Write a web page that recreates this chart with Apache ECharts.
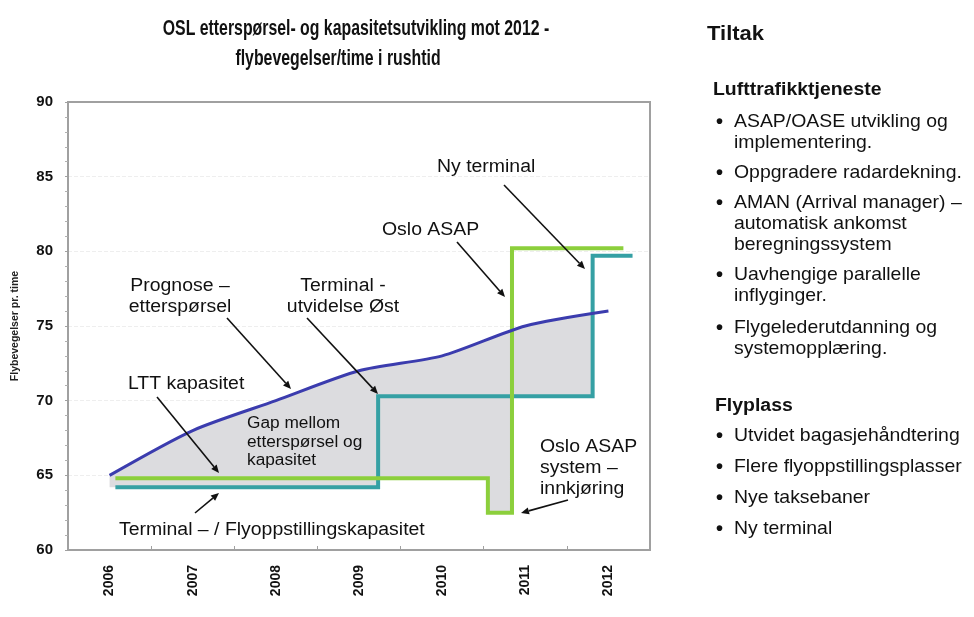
<!DOCTYPE html>
<html>
<head>
<meta charset="utf-8">
<script src="https://cdn.jsdelivr.net/npm/echarts@6/dist/echarts.min.js"></script>
<style>
html,body{margin:0;padding:0;background:#fff;}
#c{width:974px;height:617px;}
</style>
</head>
<body>
<div id="c"></div>
<script>
// ---- data ----
const years = ['2006','2007','2008','2009','2010','2011','2012'];
const yearValues = [2006, 2007, 2008, 2009, 2010, 2011, 2012];
const demand = [65, 68, 70, 72, 73, 75, 76];            // Prognose – etterspørsel
const lttBreaks = [2006.07, 2010.55, 2010.84, 2012.18];  // LTT kapasitet (step)
const lttLevels = [64.8, 62.5, 80.2, 80.2];
const termBreaks = [2006.07, 2009.23, 2011.81, 2012.29]; // Terminal-/Flyoppstillingskapasitet (step)
const termLevels = [64.2, 70.3, 79.7, 79.7];
const yTicks = [60, 65, 70, 75, 80, 85, 90];

const demandData = yearValues.map((x, i) => [x, demand[i]]);
const lttData = lttBreaks.map((x, i) => [x, lttLevels[i]]);
const termData = termBreaks.map((x, i) => [x, termLevels[i]]);

function stepVal(breaks, levels, x) {
  let v = levels[0];
  for (let i = 0; i < breaks.length; i++) if (x >= breaks[i]) v = levels[i];
  return v;
}
// lower envelope of the two capacity lines (bottom of the grey gap area)
const xMin = 2005.5, xMax = 2012.5;
const allBreaks = Array.from(new Set([xMin].concat(lttBreaks, termBreaks))).sort((a, b) => a - b);
const envelope = allBreaks.map(x => [x, Math.min(stepVal(lttBreaks, lttLevels, x), stepVal(termBreaks, termLevels, x))]);
envelope.push([xMax, envelope[envelope.length - 1][1]]);

const chart = echarts.init(document.getElementById('c'), null, {renderer: 'canvas'});

const txtFont = '"Liberation Sans", Arial, sans-serif';
function label(x, y, text, size, weight, align, sx) {
  return {type: 'text', x: x, y: y, z: 100, scaleX: sx || 1.08,
    style: {text: text, font: (weight || 'normal') + ' ' + size + 'px ' + txtFont,
      fill: '#111', textAlign: align || 'left', textVerticalAlign: 'middle'}};
}
function arrow(x1, y1, x2, y2) {
  const ang = Math.atan2(y2 - y1, x2 - x1), L = 8, W = 3.5;
  const bx = x2 - L * Math.cos(ang), by = y2 - L * Math.sin(ang);
  const px = -Math.sin(ang) * W, py = Math.cos(ang) * W;
  return [
    {type: 'line', z: 100, shape: {x1: x1, y1: y1, x2: bx, y2: by}, style: {stroke: '#111', lineWidth: 1.6}},
    {type: 'polygon', z: 100, shape: {points: [[x2, y2], [bx + px, by + py], [bx - px, by - py]]}, style: {fill: '#111'}}
  ];
}

const titleFont = 'bold 22px "Liberation Sans", Arial, sans-serif';
const graphics = [
  {type: 'text', x: 356, y: 29, z: 100, scaleX: 0.72, style: {text: 'OSL etterspørsel- og kapasitetsutvikling mot 2012 -',
    font: titleFont, fill: '#111', textAlign: 'center', textVerticalAlign: 'middle'}},
  {type: 'text', x: 338, y: 59, z: 100, scaleX: 0.72, style: {text: 'flybevegelser/time i rushtid',
    font: titleFont, fill: '#111', textAlign: 'center', textVerticalAlign: 'middle'}},
  label(180, 286, 'Prognose –', 18, 'normal', 'center'),
  label(180, 307, 'etterspørsel', 18, 'normal', 'center'),
  label(343, 286, 'Terminal -', 18, 'normal', 'center'),
  label(343, 307, 'utvidelse Øst', 18, 'normal', 'center'),
  label(128, 384, 'LTT kapasitet', 18),
  label(247, 424, 'Gap mellom', 16),
  label(247, 443, 'etterspørsel og', 16),
  label(247, 461, 'kapasitet', 16),
  label(119, 530, 'Terminal – / Flyoppstillingskapasitet', 18),
  label(540, 447, 'Oslo ASAP', 18),
  label(540, 468, 'system –', 18),
  label(540, 489, 'innkjøring', 18),
  label(437, 167, 'Ny terminal', 18),
  label(382, 230, 'Oslo ASAP', 18),
  // right panel
  label(707, 34, 'Tiltak', 20, 'bold', 'left', 1.1),
  label(713, 90, 'Lufttrafikktjeneste', 18, 'bold'),
  label(715, 406, 'Flyplass', 18, 'bold')
];
const bullets = [
  [122, ['ASAP/OASE utvikling og', 'implementering.']],
  [173, ['Oppgradere radardekning.']],
  [203, ['AMAN (Arrival manager) –', 'automatisk ankomst', 'beregningssystem']],
  [275, ['Uavhengige parallelle', 'inflyginger.']],
  [328, ['Flygelederutdanning og', 'systemopplæring.']],
  [436, ['Utvidet bagasjehåndtering']],
  [467, ['Flere flyoppstillingsplasser']],
  [498, ['Nye taksebaner']],
  [529, ['Ny terminal']]
];
bullets.forEach(b => {
  graphics.push(label(716, b[0], '•', 20, 'bold', 'left', 1));
  b[1].forEach((t, i) => graphics.push(label(734, b[0] + i * 21, t, 18.5, 'normal', 'left', 1.05)));
});
[[227, 318, 291, 389], [307, 318, 378, 394], [157, 397, 219, 473], [195, 513, 219, 493],
 [568, 500, 521, 513], [504, 185, 585, 269], [457, 242, 505, 297]].forEach(a => {
  arrow(a[0], a[1], a[2], a[3]).forEach(g => graphics.push(g));
});

const option = {
  backgroundColor: '#fff',
  animation: false,
  grid: {left: 68, right: 324, top: 102, bottom: 67, show: true, borderColor: '#a0a0a0', borderWidth: 2, z: 9},
  xAxis: [
    {type: 'category', data: years, boundaryGap: true, z: 10,
      axisLine: {lineStyle: {color: '#a0a0a0', width: 2}},
      axisTick: {show: true, inside: true, length: 4, lineStyle: {color: '#a0a0a0'}},
      axisLabel: {rotate: 90, margin: 15, color: '#111', fontWeight: 'bold', fontSize: 14, fontFamily: txtFont},
      splitLine: {show: false}},
    {type: 'value', min: xMin, max: xMax, show: false}
  ],
  yAxis: [
    {type: 'value', min: yTicks[0], max: yTicks[yTicks.length - 1], interval: 5, z: 10,
      axisLine: {show: true, lineStyle: {color: '#a0a0a0', width: 2}},
      axisTick: {show: true, length: 3, lineStyle: {color: '#a0a0a0'}},
      minorTick: {show: true, splitNumber: 5, length: 3, lineStyle: {color: '#b0b0b0'}},
      axisLabel: {margin: 15, color: '#111', fontWeight: 'bold', fontSize: 15, fontFamily: txtFont},
      splitLine: {show: false},
      name: 'Flybevegelser pr. time', nameLocation: 'middle', nameGap: 47, nameRotate: 90,
      nameTextStyle: {fontSize: 10.5, fontWeight: 'bold', color: '#222', fontFamily: txtFont}},
    {type: 'value', min: yTicks[0], max: yTicks[yTicks.length - 1], interval: 5, z: 0, position: 'left',
      axisLine: {show: false}, axisTick: {show: false}, axisLabel: {show: false},
      splitLine: {show: true, lineStyle: {color: '#eeeeee', type: 'dashed'}}}
  ],
  series: [
    {name: 'gap', type: 'line', xAxisIndex: 1, data: demandData, smooth: 0.25, symbol: 'none', z: 1,
      lineStyle: {width: 0}, areaStyle: {color: '#dcdcdf', opacity: 1, origin: 'start'}},
    {name: 'cover', type: 'line', xAxisIndex: 1, data: envelope, step: 'end', symbol: 'none', z: 2,
      lineStyle: {width: 0}, areaStyle: {color: '#ffffff', opacity: 1, origin: 'start'}},
    {name: 'Terminal – / Flyoppstillingskapasitet', type: 'line', xAxisIndex: 1, data: termData, step: 'end',
      symbol: 'none', z: 3, lineStyle: {color: '#35a0a4', width: 4, join: 'miter'}},
    {name: 'LTT kapasitet', type: 'line', xAxisIndex: 1, data: lttData, step: 'end',
      symbol: 'none', z: 4, lineStyle: {color: '#8ccf3c', width: 4, join: 'miter'}},
    {name: 'Prognose – etterspørsel', type: 'line', xAxisIndex: 1, data: demandData, smooth: 0.25,
      symbol: 'none', z: 5, lineStyle: {color: '#3b3cae', width: 3}}
  ],
  graphic: graphics
};
chart.setOption(option);
</script>
</body>
</html>
